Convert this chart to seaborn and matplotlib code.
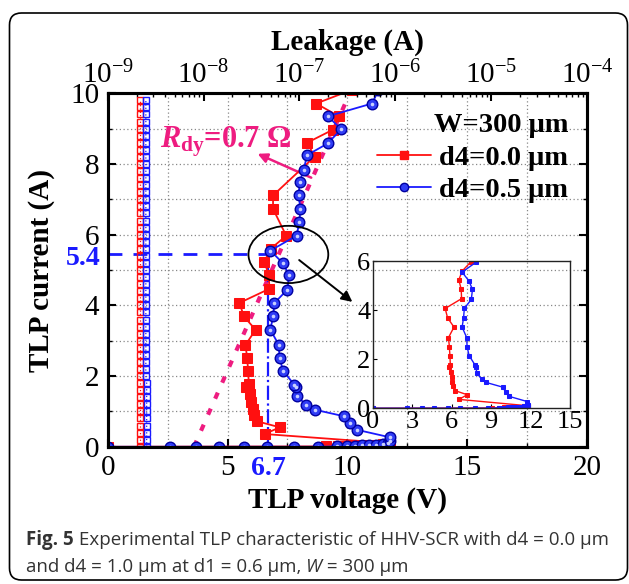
import matplotlib
matplotlib.use("Agg")
import matplotlib.pyplot as plt
import seaborn as sns
from matplotlib.patches import Ellipse, FancyBboxPatch
from matplotlib.lines import Line2D
from matplotlib.ticker import MultipleLocator, LogLocator, LogFormatterMathtext, NullFormatter, FixedLocator

sns.set_theme(style="ticks")
plt.rcParams['font.family'] = ['Liberation Serif', 'DejaVu Serif']
plt.rcParams['font.serif'] = ['Liberation Serif', 'DejaVu Serif']
plt.rcParams['mathtext.fontset'] = 'custom'
plt.rcParams['mathtext.rm'] = 'Liberation Serif'
plt.rcParams['mathtext.it'] = 'Liberation Serif:italic:bold'
plt.rcParams['mathtext.bf'] = 'Liberation Serif:bold'
for k in ['text.color', 'axes.labelcolor', 'xtick.color', 'ytick.color', 'axes.edgecolor']:
    plt.rcParams[k] = 'black'
SERIF = 'Liberation Serif'

# ---------------- data ----------------
red_label = "d4=0.0 μm"
blue_label = "d4=0.5 μm"

red_v = [0.0, 9.1, 9.6, 10.0, 10.45, 10.9, 11.25, 11.5, 11.8, 6.55, 7.18, 6.24, 6.12, 6.05,
         6.0, 5.95, 5.79, 5.89, 5.86, 5.82, 5.75, 6.17, 5.68, 5.5, 6.75, 6.72, 6.54, 6.8,
         7.45, 6.9, 6.9, 8.64, 8.32, 9.4, 9.64, 8.7, 10.2]
red_i = [0.0, 0.01, 0.02, 0.03, 0.04, 0.05, 0.06, 0.08, 0.1, 0.36, 0.55, 0.72, 0.91, 1.08,
         1.26, 1.49, 1.68, 1.78, 2.15, 2.51, 2.88, 3.31, 3.69, 4.07, 4.47, 4.85, 5.24, 5.6,
         5.97, 6.73, 7.11, 8.21, 8.6, 8.97, 9.35, 9.71, 10.1]

blue_v = [0.0, 2.6, 3.7, 4.64, 5.68, 6.65, 7.76, 8.78, 9.57, 10.0, 10.3, 10.6, 10.9, 11.2,
          11.5, 11.7, 11.8, 11.76, 10.4, 10.1, 9.88, 8.63, 8.28, 7.9, 7.86, 7.79, 7.32, 7.17,
          7.14, 6.79, 6.9, 6.96, 7.49, 7.58, 7.3, 6.79, 7.88, 8.0, 8.04, 7.97, 8.01, 8.18,
          8.32, 9.18, 9.74, 9.19, 11.03, 11.3]
blue_i = [0.0, 0.0, 0.0, 0.0, 0.0, 0.0, 0.0, 0.0, 0.01, 0.02, 0.03, 0.04, 0.05, 0.06,
          0.08, 0.1, 0.15, 0.27, 0.48, 0.67, 0.86, 1.05, 1.19, 1.43, 1.68, 1.75, 2.15, 2.51,
          2.88, 3.31, 3.69, 4.07, 4.44, 4.85, 5.2, 5.55, 5.97, 6.36, 6.73, 7.11, 7.49, 7.84,
          8.25, 8.58, 8.98, 9.35, 9.71, 10.08]

leak_i = [0.0, 0.2, 0.4, 0.6, 0.8, 1.0, 1.2, 1.4, 1.6, 1.8, 2.0, 2.2, 2.4, 2.6, 2.8, 3.0,
          3.2, 3.4, 3.6, 3.8, 4.0, 4.2, 4.4, 4.6, 4.8, 5.0, 5.2, 5.4, 5.6, 5.8, 6.0, 6.2,
          6.4, 6.6, 6.8, 7.0, 7.2, 7.4, 7.6, 7.8, 8.0, 8.2, 8.4, 8.6, 8.8, 9.0, 9.2, 9.4,
          9.6, 9.8]
leak_red = [2.15e-9, 2.15e-9, 2.15e-9, 2.15e-9, 2.15e-9, 2.15e-9, 2.15e-9, 2.15e-9, 2.15e-9, 2.15e-9,
            2.15e-9, 2.15e-9, 2.15e-9, 2.15e-9, 2.15e-9, 2.15e-9, 2.15e-9, 2.15e-9, 2.15e-9, 2.15e-9,
            2.15e-9, 2.15e-9, 2.15e-9, 2.15e-9, 2.15e-9, 2.15e-9, 2.15e-9, 2.15e-9, 2.15e-9, 2.15e-9,
            2.15e-9, 2.15e-9, 2.15e-9, 2.15e-9, 2.15e-9, 2.15e-9, 2.15e-9, 2.15e-9, 2.15e-9, 2.15e-9,
            2.15e-9, 2.15e-9, 2.15e-9, 2.15e-9, 2.15e-9, 2.15e-9, 2.15e-9, 2.15e-9, 2.15e-9, 2.15e-9]
leak_blue = [2.55e-9, 2.55e-9, 2.55e-9, 2.55e-9, 2.55e-9, 2.55e-9, 2.55e-9, 2.55e-9, 2.55e-9, 2.55e-9,
             2.5e-9, 2.5e-9, 2.5e-9, 2.5e-9, 2.5e-9, 2.5e-9, 2.5e-9, 2.5e-9, 2.5e-9, 2.5e-9,
             2.5e-9, 2.5e-9, 2.5e-9, 2.5e-9, 2.5e-9, 2.5e-9, 2.5e-9, 2.5e-9, 2.5e-9, 2.5e-9,
             2.5e-9, 2.5e-9, 2.5e-9, 2.5e-9, 2.5e-9, 2.5e-9, 2.5e-9, 2.5e-9, 2.5e-9, 2.5e-9,
             2.5e-9, 2.5e-9, 2.5e-9, 2.5e-9, 2.5e-9, 2.5e-9, 2.5e-9, 2.5e-9, 2.5e-9, 2.5e-9]

fit_v = [3.6, 10.1]       # R_dy fit line (dashed magenta)
fit_i = [0.0, 10.0]
hold_v = 6.7              # holding voltage
hold_i = 5.45             # current marker line (labelled 5.4)
hold_i_label = "5.4"
hold_v_label = "6.7"
rdy_text = r"$R_{\mathbf{dy}}$=0.7 Ω"
caption_bold = "Fig. 5"
caption_rest = " Experimental TLP characteristic of HHV-SCR with d4 = 0.0 μm"
caption_line2 = "and d4 = 1.0 μm at d1 = 0.6 μm, "
caption_w = "W"
caption_end = " = 300 μm"

RED = "#ff1010"
BLUE = "#1a1aff"
MAG = "#ee1c80"

# ---------------- figure ----------------
fig = plt.figure(figsize=(6.29, 5.84), dpi=100)
fig.patch.set_facecolor("white")

frame = FancyBboxPatch((9.5, 4), 618, 567, boxstyle="round,pad=0,rounding_size=12",
                       transform=None, fc="none", ec="black", lw=1.2)
fig.add_artist(frame)

ax = fig.add_axes([0.1712, 0.235, 0.762, 0.6053])
ax.set_xlim(0, 20)
ax.set_ylim(0, 10)

sns.lineplot(x=red_v, y=red_i, sort=False, estimator=None, ax=ax, color=RED, lw=1.3,
             marker="s", markersize=6.8, markerfacecolor=RED, markeredgecolor=RED, zorder=4)
sns.lineplot(x=blue_v, y=blue_i, sort=False, estimator=None, ax=ax, color=BLUE, lw=1.3,
             marker="o", markersize=7.6, markerfacecolor="#2f3cf5", markeredgecolor="#0000a0",
             markeredgewidth=1.0, zorder=5)
# sphere highlight on the blue markers
ax.plot(blue_v, blue_i, ls="none", marker="o", markersize=2.6, markerfacecolor="#c8d0ff",
        markeredgewidth=0, zorder=5.5)

# guide lines
ax.plot(fit_v, fit_i, color=MAG, lw=3, ls=(0, (1.6, 2.6)), zorder=3)
ax.plot([hold_v, hold_v], [0, hold_i], color=BLUE, lw=1.6, ls="-.", zorder=3)
ax.plot([0, hold_v], [hold_i, hold_i], color=BLUE, lw=2.0, ls=(0, (5, 4)), zorder=3)

ax.add_patch(Ellipse((7.54, 5.44), 3.33, 1.62, fc="none", ec="black", lw=1.3, zorder=6))
ax.annotate("", xy=(10.3, 4.05), xytext=(7.9, 5.33),
            arrowprops=dict(arrowstyle="-|>", color="black", lw=1.4, mutation_scale=16), zorder=6)
ax.text(2.2, 8.62, rdy_text, color=MAG, fontsize=22, fontweight="bold", va="center", ha="left")
ax.annotate("", xy=(6.15, 8.32), xytext=(8.6, 7.58),
            arrowprops=dict(arrowstyle="-|>", color=MAG, lw=1.8, mutation_scale=14))

ax.annotate(hold_i_label, xy=(0, hold_i), xycoords="data", xytext=(-5, -3), textcoords="offset points",
            ha="right", va="center", color=BLUE, fontsize=20, fontweight="bold", annotation_clip=False)
ax.annotate(hold_v_label, xy=(hold_v, 0), xycoords="data", xytext=(0, -7), textcoords="offset points",
            ha="center", va="top", color=BLUE, fontsize=20, fontweight="bold", annotation_clip=False)

ax.xaxis.set_major_locator(FixedLocator([0, 5, 10, 15, 20]))
ax.xaxis.set_minor_locator(MultipleLocator(2.5))
ax.yaxis.set_major_locator(MultipleLocator(2))
ax.yaxis.set_minor_locator(MultipleLocator(1))
ax.grid(which="both", ls=(0, (1, 2)), color="#888888", lw=0.9)
ax.tick_params(which="major", direction="in", length=6, width=1.5, labelsize=21, pad=6,
               top=False, right=True, labelcolor="black", labelfontfamily=SERIF)
ax.tick_params(which="minor", direction="in", length=3, width=1.0, top=False, right=True)
for s in ax.spines.values():
    s.set_linewidth(2.2)
    s.set_color("black")
ax.set_xlabel("TLP voltage (V)", fontsize=21, fontweight="bold", labelpad=4, family=SERIF)
ax.set_ylabel("TLP current (A)", fontsize=21, fontweight="bold", family=SERIF)
ax.yaxis.set_label_coords(-0.11, 0.5)

# legend
h_red = Line2D([], [], color=RED, lw=1.3, marker="s", markersize=6, markerfacecolor=RED, markeredgecolor=RED)
h_blue = Line2D([], [], color=BLUE, lw=1.3, marker="o", markersize=6, markerfacecolor="#2f3cf5", markeredgecolor="#0000a0")
leg = ax.legend([h_red, h_blue], [red_label, blue_label], title="W=300 μm", loc="upper right",
                bbox_to_anchor=(0.985, 0.975), frameon=False, handlelength=1.9, handletextpad=0.3,
                labelspacing=0.22, borderaxespad=0,
                prop=dict(weight="bold", size=20.5, family=SERIF),
                title_fontproperties=dict(weight="bold", size=20.5, family=SERIF))
leg._legend_box.align = "right"

# top leakage axis
axt = ax.twiny()
axt.set_xscale("log")
axt.set_xlim(1e-9, 1e-4)
axt.set_ylim(0, 10)
sns.lineplot(x=leak_red, y=leak_i, sort=False, estimator=None, ax=axt, color=RED, lw=0.9, ls=":",
             marker="s", markersize=5.0, markerfacecolor="none", markeredgecolor=RED, markeredgewidth=1.0)
sns.lineplot(x=leak_blue, y=leak_i, sort=False, estimator=None, ax=axt, color=BLUE, lw=0.9, ls=":",
             marker="s", markersize=5.0, markerfacecolor="none", markeredgecolor=BLUE, markeredgewidth=1.0)
axt.xaxis.set_major_locator(LogLocator(base=10, numticks=10))
axt.xaxis.set_major_formatter(LogFormatterMathtext())
axt.xaxis.set_minor_locator(LogLocator(base=10, subs=range(2, 10), numticks=20))
axt.xaxis.set_minor_formatter(NullFormatter())
axt.tick_params(which="major", direction="in", length=6, width=1.5, labelsize=21, pad=3,
                labelfontfamily=SERIF, labelcolor="black")
axt.tick_params(which="minor", direction="in", length=3, width=1.0)
axt.set_xlabel("Leakage (A)", fontsize=21, fontweight="bold", labelpad=8, family=SERIF)
axt.grid(False)
for s in axt.spines.values():
    s.set_linewidth(2.2)
    s.set_color("black")

# inset
axi = fig.add_axes([0.593, 0.301, 0.313, 0.2518])
axi.patch.set_alpha(0)
sns.lineplot(x=red_v, y=red_i, sort=False, estimator=None, ax=axi, color=RED, lw=1.0,
             marker="s", markersize=3.2, markerfacecolor=RED, markeredgecolor=RED)
sns.lineplot(x=blue_v, y=blue_i, sort=False, estimator=None, ax=axi, color=BLUE, lw=1.0,
             marker="s", markersize=3.2, markerfacecolor=BLUE, markeredgecolor=BLUE)
axi.set_xlim(0, 15)
axi.set_ylim(0, 6)
axi.xaxis.set_major_locator(MultipleLocator(3))
axi.yaxis.set_major_locator(MultipleLocator(2))
axi.tick_params(direction="in", length=3, width=0.8, labelsize=19, pad=2, labelfontfamily=SERIF,
                labelcolor="black")
for s in axi.spines.values():
    s.set_linewidth(1.0)
    s.set_color("#222222")

# caption
cap_kw = dict(family=["Open Sans", "DejaVu Sans"], color="#333333", fontsize=13.5)
t1 = fig.text(26 / 629, 1 - 540 / 584, caption_bold, fontweight="bold", va="center", **cap_kw)
fig.canvas.draw()
r = fig.canvas.get_renderer()
bb = t1.get_window_extent(r)
fig.text(bb.x1 / fig.bbox.width, 1 - 540 / 584, caption_rest, va="center", **cap_kw)
t3 = fig.text(26 / 629, 1 - 567 / 584, caption_line2, va="center", **cap_kw)
fig.canvas.draw()
bb3 = t3.get_window_extent(r)
t4 = fig.text(bb3.x1 / fig.bbox.width, 1 - 567 / 584, caption_w, va="center", style="italic", **cap_kw)
fig.canvas.draw()
bb4 = t4.get_window_extent(r)
fig.text(bb4.x1 / fig.bbox.width, 1 - 567 / 584, caption_end, va="center", **cap_kw)

fig.savefig("out.png", dpi=100)
